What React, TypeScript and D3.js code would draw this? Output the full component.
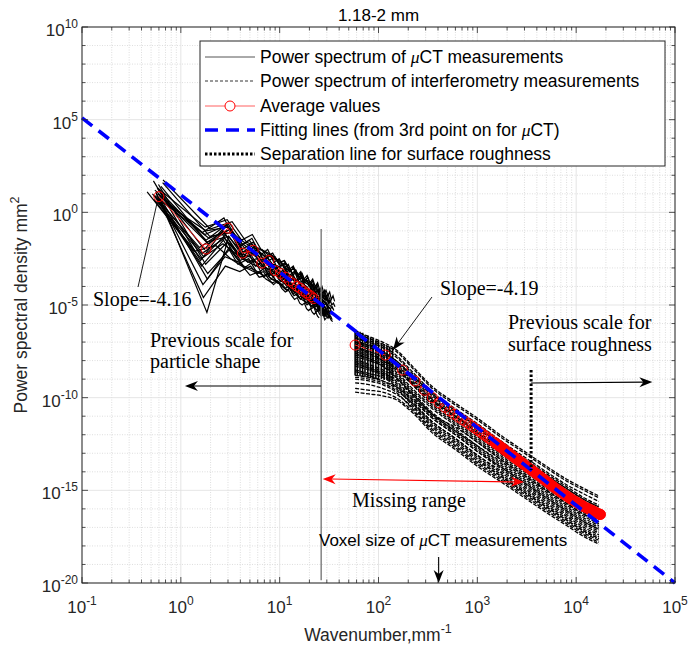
import React from 'react';
import * as d3 from 'd3';

// ---------------- DATA ----------------
const TITLE = '1.18-2 mm';
const X_TICK_EXP = [-1, 0, 1, 2, 3, 4, 5];
const Y_TICK_EXP = [10, 5, 0, -5, -10, -15, -20];

// µCT wavenumbers (mm^-1) and per-particle scale of the fundamental
const K_CT = [0.6, 1.8, 3.0, 4.2, 5.4, 6.6, 7.8, 9.0, 10.2, 11.4, 12.6, 13.8, 15.0, 16.2, 17.4, 18.6, 19.8, 21.0, 22.2, 23.4, 24.6, 25.8, 27.0, 28.2, 29.4, 30.6, 31.8, 33.0];
const CT_KSCALE = [1.0, 0.95, 1.1, 0.9, 1.02, 0.97, 0.76, 1.05, 0.93, 1.0, 0.88, 1.04, 0.98, 0.92, 0.86, 1.07, 0.99, 0.91, 1.03, 0.96, 0.89, 1.09, 0.94, 1.01];
// log10 PSD of µCT power spectra
const CT_CURVES = [
  [1.2, -1.5, -0.6, -2.0, -1.6, -2.4, -2.9, -2.8, -3.4, -3.1, -3.8, -3.5, -4.1, -3.9, -4.4, -4.2, -4.6, -4.3, -4.8, -4.6, -5.0, -4.8, -5.2, -5.0, -5.3, -5.1, -5.5, -5.3],
  [0.6, -2.4, -1.2, -2.6, -2.3, -3.0, -2.7, -3.5, -3.2, -3.8, -3.6, -4.2, -3.9, -4.4, -4.1, -4.6, -4.4, -4.8, -4.6, -5.0, -4.8, -5.2, -5.0, -5.4, -5.2, -5.5, -5.3, -5.6],
  [1.75, -0.9, -0.5, -1.6, -1.9, -2.2, -2.5, -2.6, -2.9, -3.2, -3.0, -3.6, -3.4, -3.8, -3.7, -4.1, -3.9, -4.3, -4.2, -4.4, -4.5, -4.7, -4.5, -4.9, -4.7, -5.0, -4.9, -5.1],
  [0.9, -2.9, -1.5, -2.8, -2.5, -3.3, -3.0, -3.6, -3.7, -3.9, -4.1, -4.0, -4.4, -4.3, -4.6, -4.7, -4.8, -5.0, -4.9, -5.2, -5.1, -5.4, -5.3, -5.5, -5.6, -5.5, -5.8, -5.7],
  [0.8, -5.4, -1.3, -2.4, -2.2, -2.9, -3.1, -3.3, -3.5, -3.4, -3.9, -3.8, -4.2, -4.1, -4.4, -4.5, -4.4, -4.8, -4.7, -4.9, -5.0, -4.9, -5.2, -5.1, -5.3, -5.4, -5.3, -5.5],
  [1.0, -1.2, -0.7, -1.8, -1.4, -2.3, -2.0, -2.7, -2.5, -3.0, -2.8, -3.3, -3.1, -3.5, -3.3, -3.7, -3.5, -3.9, -3.7, -4.1, -3.9, -4.3, -4.1, -4.4, -4.2, -4.6, -4.4, -4.7],
  [1.1, -2.1, -1.8, -2.5, -2.9, -3.1, -3.3, -3.2, -3.6, -3.9, -3.7, -4.1, -4.3, -4.2, -4.5, -4.7, -4.6, -4.9, -5.0, -4.9, -5.2, -5.3, -5.2, -5.4, -5.5, -5.4, -5.6, -5.7],
  [1.4, -1.7, -0.9, -2.3, -1.8, -2.6, -2.3, -3.0, -2.8, -3.3, -3.4, -3.6, -3.8, -3.7, -4.0, -4.2, -4.1, -4.4, -4.3, -4.6, -4.5, -4.7, -4.8, -4.9, -5.0, -5.0, -5.1, -5.2],
  [1.1, -3.9, -2.4, -2.7, -3.4, -3.2, -3.6, -3.8, -3.7, -4.0, -4.2, -4.1, -4.5, -4.4, -4.7, -4.6, -4.9, -4.8, -5.1, -5.0, -5.2, -5.3, -5.2, -5.5, -5.4, -5.6, -5.5, -5.7],
  [0.7, -1.0, -0.8, -1.7, -2.1, -2.0, -2.6, -2.4, -2.9, -2.7, -3.2, -3.0, -3.5, -3.3, -3.8, -3.6, -4.0, -3.8, -4.2, -4.0, -4.4, -4.2, -4.6, -4.4, -4.8, -4.6, -4.9, -4.8],
  [1.7, -2.6, -1.0, -2.1, -2.7, -2.5, -2.9, -3.4, -3.2, -3.6, -3.5, -3.9, -4.0, -3.9, -4.3, -4.2, -4.5, -4.4, -4.7, -4.8, -4.7, -5.0, -4.9, -5.1, -5.2, -5.1, -5.3, -5.4],
  [0.5, -3.3, -2.0, -3.0, -2.6, -3.5, -3.2, -3.8, -3.9, -4.2, -4.0, -4.4, -4.6, -4.5, -4.8, -4.9, -5.0, -5.1, -5.2, -5.3, -5.2, -5.5, -5.4, -5.6, -5.7, -5.6, -5.8, -5.9],
  [1.3, -0.8, -0.4, -1.5, -1.2, -2.0, -2.2, -2.4, -2.7, -2.6, -3.0, -3.3, -3.2, -3.5, -3.6, -3.8, -3.9, -4.0, -4.1, -4.3, -4.2, -4.5, -4.4, -4.6, -4.7, -4.6, -4.9, -4.8],
  [0.9, -2.2, -1.4, -2.2, -2.4, -2.8, -2.5, -3.1, -3.0, -3.5, -3.3, -3.7, -3.6, -4.0, -3.9, -4.3, -4.2, -4.5, -4.4, -4.7, -4.6, -4.9, -4.8, -5.1, -5.0, -5.3, -5.2, -5.4],
  [1.0, -1.9, -1.1, -2.4, -2.0, -2.9, -2.7, -3.2, -3.1, -3.6, -3.4, -3.9, -3.8, -4.2, -4.0, -4.4, -4.3, -4.6, -4.5, -4.8, -4.7, -5.0, -4.9, -5.2, -5.1, -5.3, -5.2, -5.4],
  [0.6, -1.4, -0.9, -2.0, -2.3, -2.5, -2.8, -2.9, -3.1, -3.4, -3.3, -3.7, -3.6, -3.9, -4.0, -4.2, -4.1, -4.4, -4.5, -4.6, -4.7, -4.8, -4.9, -5.0, -5.1, -5.2, -5.1, -5.3],
  [1.5, -2.8, -1.6, -2.5, -2.8, -3.0, -3.4, -3.3, -3.7, -3.6, -4.0, -4.1, -4.0, -4.4, -4.3, -4.7, -4.6, -4.8, -5.0, -4.9, -5.1, -5.2, -5.1, -5.4, -5.3, -5.5, -5.6, -5.5],
  [1.2, -1.1, -0.3, -1.9, -1.5, -2.1, -2.4, -2.3, -2.6, -2.9, -2.8, -3.1, -3.4, -3.2, -3.6, -3.5, -3.8, -3.7, -4.0, -3.9, -4.2, -4.1, -4.3, -4.5, -4.4, -4.6, -4.5, -4.7],
  [0.8, -3.6, -1.9, -2.9, -3.1, -3.4, -3.3, -3.7, -3.9, -3.8, -4.2, -4.3, -4.2, -4.6, -4.5, -4.8, -4.9, -4.8, -5.1, -5.0, -5.3, -5.2, -5.4, -5.5, -5.4, -5.7, -5.6, -5.8],
  [1.3, -2.0, -0.7, -2.1, -2.2, -2.6, -2.4, -2.9, -3.3, -3.2, -3.5, -3.4, -3.8, -3.7, -4.1, -4.0, -4.3, -4.2, -4.5, -4.4, -4.7, -4.6, -4.9, -4.8, -5.0, -4.9, -5.2, -5.1],
  [0.7, -2.5, -1.7, -2.3, -2.6, -2.7, -3.0, -3.1, -3.3, -3.5, -3.6, -3.8, -3.9, -4.1, -4.2, -4.4, -4.5, -4.6, -4.8, -4.7, -5.0, -5.1, -5.0, -5.3, -5.2, -5.4, -5.5, -5.6],
  [1.6, -1.3, -1.1, -1.7, -2.0, -2.4, -2.2, -2.8, -2.6, -3.1, -2.9, -3.4, -3.2, -3.6, -3.4, -3.8, -3.6, -4.0, -3.8, -4.2, -4.0, -4.4, -4.2, -4.5, -4.3, -4.7, -4.5, -4.8],
  [1.0, -4.6, -2.9, -3.2, -2.9, -3.5, -3.4, -3.6, -3.8, -3.7, -4.0, -4.1, -4.3, -4.2, -4.5, -4.6, -4.7, -4.6, -4.9, -4.8, -5.0, -5.1, -5.2, -5.1, -5.3, -5.4, -5.3, -5.5],
  [0.9, -1.6, -1.3, -2.2, -1.9, -2.7, -2.6, -3.0, -3.2, -3.0, -3.5, -3.7, -3.6, -3.9, -4.1, -4.0, -4.3, -4.4, -4.3, -4.6, -4.7, -4.6, -4.9, -5.0, -4.9, -5.1, -5.2, -5.3],
];
// log10 of µCT average values (at first 19 wavenumbers)
const CT_AVG = [0.85, -1.98, -0.85, -2.2, -2.05, -2.74, -2.6, -3.15, -3.3, -3.5, -3.7, -3.85, -4.0, -4.1, -4.25, -4.35, -4.45, -4.55, -4.65];

// interferometry
const K_IF = [58, 80, 110, 150, 220, 350, 600, 1000, 1800, 3000, 5000, 8000, 12000, 17000];
const IF_CURVES = [
  [-6.5, -6.8, -7.1, -7.5, -8.4, -9.5, -10.4, -11.2, -12.2, -13.0, -13.8, -14.5, -15.0, -15.4],
  [-6.8, -7.0, -7.3, -7.8, -8.7, -9.8, -10.7, -11.5, -12.5, -13.3, -14.1, -14.8, -15.4, -15.8],
  [-7.0, -7.3, -7.6, -8.1, -8.9, -10.0, -10.9, -11.8, -12.8, -13.6, -14.4, -15.1, -15.7, -16.1],
  [-7.3, -7.5, -7.8, -8.3, -9.2, -10.3, -11.2, -12.1, -13.1, -13.9, -14.7, -15.4, -16.0, -16.4],
  [-7.5, -7.8, -8.1, -8.6, -9.5, -10.5, -11.4, -12.3, -13.3, -14.1, -14.9, -15.6, -16.2, -16.6],
  [-7.8, -8.0, -8.3, -8.8, -9.7, -10.8, -11.7, -12.6, -13.6, -14.4, -15.2, -15.9, -16.5, -16.9],
  [-8.0, -8.3, -8.6, -9.1, -10.0, -11.0, -11.9, -12.8, -13.8, -14.6, -15.4, -16.1, -16.7, -17.1],
  [-8.3, -8.5, -8.8, -9.3, -10.2, -11.3, -12.2, -13.1, -14.1, -14.9, -15.7, -16.4, -17.0, -17.4],
  [-8.6, -8.8, -9.1, -9.5, -10.4, -11.5, -12.4, -13.3, -14.3, -15.1, -15.9, -16.6, -17.2, -17.6],
  [-8.9, -9.0, -9.2, -9.6, -10.3, -11.3, -12.2, -13.1, -14.0, -14.8, -15.6, -16.3, -16.9, -17.3],
  [-9.2, -9.3, -9.5, -9.8, -10.5, -11.6, -12.5, -13.4, -14.3, -15.1, -15.9, -16.6, -17.2, -17.6],
  [-9.5, -9.6, -9.7, -10.0, -10.7, -11.8, -12.7, -13.6, -14.5, -15.3, -16.1, -16.8, -17.4, -17.8],
  [-7.2, -7.6, -8.0, -8.5, -9.3, -10.2, -11.0, -11.9, -12.9, -13.8, -14.6, -15.3, -15.9, -16.3],
  [-6.9, -7.2, -7.6, -8.2, -9.1, -10.1, -11.0, -11.7, -12.6, -13.5, -14.3, -15.0, -15.6, -16.0],
  [-8.1, -8.4, -8.7, -9.0, -9.8, -10.9, -11.8, -12.6, -13.5, -14.3, -15.1, -15.8, -16.4, -16.8],
  [-7.6, -7.9, -8.3, -8.9, -9.9, -10.9, -11.6, -12.4, -13.4, -14.2, -15.0, -15.7, -16.3, -16.7],
  [-6.6, -6.9, -7.2, -7.7, -8.6, -9.7, -10.6, -11.4, -12.4, -13.2, -14.0, -14.7, -15.2, -15.6],
  [-6.7, -7.1, -7.5, -8.0, -8.8, -9.9, -10.8, -11.6, -12.6, -13.4, -14.2, -14.9, -15.5, -15.9],
  [-7.1, -7.4, -7.7, -8.2, -9.0, -10.1, -11.0, -11.9, -12.9, -13.7, -14.5, -15.2, -15.8, -16.2],
  [-7.4, -7.7, -8.0, -8.4, -9.3, -10.4, -11.3, -12.2, -13.2, -14.0, -14.8, -15.5, -16.1, -16.5],
  [-7.7, -7.9, -8.2, -8.7, -9.6, -10.6, -11.5, -12.4, -13.4, -14.2, -15.0, -15.7, -16.3, -16.7],
  [-7.9, -8.2, -8.5, -8.9, -9.8, -10.9, -11.8, -12.7, -13.7, -14.5, -15.3, -16.0, -16.6, -17.0],
  [-8.2, -8.4, -8.7, -9.2, -10.1, -11.1, -12.0, -12.9, -13.9, -14.7, -15.5, -16.2, -16.8, -17.2],
  [-8.5, -8.7, -8.9, -9.4, -10.3, -11.4, -12.3, -13.2, -14.2, -15.0, -15.8, -16.5, -17.1, -17.5],
  [-8.8, -8.9, -9.1, -9.4, -10.1, -11.1, -12.0, -12.9, -13.8, -14.6, -15.4, -16.1, -16.7, -17.1],
  [-9.0, -9.1, -9.3, -9.7, -10.6, -11.7, -12.6, -13.5, -14.4, -15.2, -16.0, -16.7, -17.3, -17.7],
  [-7.0, -7.2, -7.5, -8.0, -8.8, -9.8, -10.7, -11.6, -12.6, -13.4, -14.2, -14.9, -15.5, -15.9],
  [-7.3, -7.6, -7.9, -8.4, -9.2, -10.2, -11.1, -12.0, -13.0, -13.8, -14.6, -15.3, -15.9, -16.3],
  [-9.7, -9.8, -9.9, -10.1, -10.8, -11.9, -12.8, -13.7, -14.6, -15.4, -16.2, -16.9, -17.5, -17.9],
  [-6.4, -6.7, -7.0, -7.4, -8.3, -9.4, -10.3, -11.1, -12.1, -12.9, -13.7, -14.4, -14.9, -15.3],
];
// low-wavenumber spread of interferometry spectra (log10 PSD range)
const IF_STRIPE_K = [58, 61, 65, 69, 73, 78, 83, 88, 94, 100, 107, 114, 122, 130, 139];
const IF_STRIPE_TOP = [-6.35, -6.4, -6.45, -6.5, -6.6, -6.65, -6.75, -6.8, -6.9, -6.95, -7.05, -7.1, -7.2, -7.25, -7.3];
const IF_STRIPE_BOTTOM = [-8.8, -8.8, -8.85, -8.85, -8.9, -8.9, -8.95, -8.95, -9.0, -9.0, -9.0, -9.05, -9.05, -9.1, -9.1];
// interferometry averages
const IF_AVG_K = [58, 117, 175, 234, 292, 351, 409, 468, 526, 585, 643, 702, 760, 819, 877, 936, 994, 1053, 1111, 1170, 1228, 1287, 1345, 1404, 1521, 1638, 1755, 1872, 2340, 2925, 3510, 4680, 5850, 7020, 8775, 11700, 14625, 17550];
const IF_AVG = [-7.16, -7.7, -8.51, -9.1, -9.6, -10.0, -10.28, -10.52, -10.72, -10.9, -11.05, -11.18, -11.3, -11.42, -11.53, -11.63, -11.73, -11.83, -11.92, -12.01, -12.09, -12.17, -12.24, -12.31, -12.45, -12.57, -12.69, -12.8, -13.2, -13.58, -13.9, -14.4, -14.8, -15.1, -15.45, -15.85, -16.1, -16.3];
const IF_DENSE_FROM = 1500;

// fitting lines: log10(P) = b + s*log10(k)
const FIT_SLOPE = [-4.16, -4.19];
const FIT_INTERCEPT = [0.94, 0.95];
const FIT_RANGE = [[0.1, 60], [60, 1e5]];

const LEGEND = [
  'Power spectrum of |µ|CT measurements',
  'Power spectrum of interferometry measurements',
  'Average values',
  'Fitting lines (from 3rd point on for |µ|CT)',
  'Separation line for surface roughness',
];

// ---------------- LAYOUT ----------------
const W = 689, H = 649;
const L = 82, R = 675, T = 27, B = 583;
const SANS = "'Liberation Sans', Arial, Helvetica, sans-serif";
const SERIF = "'Liberation Serif', 'Times New Roman', serif";
const AX = '#262626';

const xs = d3.scaleLog().domain([1e-1, 1e5]).range([L, R]);
const ys = d3.scaleLog().domain([1e-20, 1e10]).range([B, T]);
const px = (k: number) => xs(k);
const py = (lg: number) => ys(Math.pow(10, lg));

function head(x1: number, y1: number, x2: number, y2: number, len = 13, wd = 5, notch = 4) {
  const a = Math.atan2(y2 - y1, x2 - x1);
  const ux = Math.cos(a), uy = Math.sin(a);
  const nx = -uy, ny = ux;
  const bx = x2 - ux * len, by = y2 - uy * len;
  const cx = x2 - ux * (len - notch), cy = y2 - uy * (len - notch);
  return `M${x2},${y2}L${bx + nx * wd},${by + ny * wd}L${cx},${cy}L${bx - nx * wd},${by - ny * wd}Z`;
}

function MuText({ s }: { s: string }) {
  const parts = s.split('|');
  return (
    <>
      {parts.map((p, i) =>
        p === 'µ' ? (
          <tspan key={i} fontFamily={SERIF} fontStyle="italic">μ</tspan>
        ) : (
          <tspan key={i}>{p}</tspan>
        )
      )}
    </>
  );
}

export default function App() {
  const xMajor = X_TICK_EXP.map((e) => Math.pow(10, e));
  const xMinor: number[] = [];
  for (let e = -1; e < 5; e++) for (let m = 2; m <= 9; m++) xMinor.push(m * Math.pow(10, e));
  const yDecades = d3.range(-20, 11);

  const ctLine = d3.line<[number, number]>().x((d) => d[0]).y((d) => d[1]);
  const ifLine = d3.line<[number, number]>().x((d) => d[0]).y((d) => d[1]).curve(d3.curveMonotoneX);

  const ctPaths = CT_CURVES.map((c, i) =>
    ctLine(c.map((v, j) => [px(K_CT[j] * CT_KSCALE[i]), py(v)] as [number, number]))
  );
  const ifPaths = IF_CURVES.map((c) => ifLine(c.map((v, j) => [px(K_IF[j]), py(v)] as [number, number])));

  const ctAvgPts = CT_AVG.map((v, j) => [px(K_CT[j]), py(v)] as [number, number]);
  const ifAvgPts = IF_AVG.map((v, j) => [px(IF_AVG_K[j]), py(v)] as [number, number]);
  const ifDensePts = IF_AVG.map((v, j) => [IF_AVG_K[j], v]).filter((d) => d[0] >= IF_DENSE_FROM).map((d) => [px(d[0]), py(d[1])] as [number, number]);

  const fitLines = FIT_SLOPE.map((s, i) => {
    const [a, b] = FIT_RANGE[i];
    return [
      [px(a), py(FIT_INTERCEPT[i] + s * Math.log10(a))],
      [px(b), py(FIT_INTERCEPT[i] + s * Math.log10(b))],
    ];
  });

  // annotations (data coordinates: wavenumber, log10 PSD)
  const ctLimitK = 26.3;
  const sepK = 3500;
  const vLine = { x: px(ctLimitK), y1: py(-0.9), y2: py(-19.85) };
  const partArrow = { x1: px(ctLimitK), y1: py(-9.37), x2: px(1.1), y2: py(-9.37) };
  const surfArrow = { x1: px(sepK), y1: py(-9.21), x2: px(59000), y2: py(-9.16) };
  const sepLine = { x: px(sepK), y1: py(-8.51), y2: py(-13.9) };
  const missArrow = { x1: px(ctLimitK) + 1.5, y1: py(-14.39), x2: px(2965), y2: py(-14.55) };
  const voxArrow = { x1: px(406), y1: py(-18.6), x2: px(406), y2: py(-20) };
  const slope2 = { x1: px(347.6), y1: py(-4.57), x2: px(140), y2: py(-7.43) };
  const slope1 = { x1: px(0.369), y1: py(-4.03), x2: px(0.574), y2: py(0.5) };

  const legX = 200, legY = 41, legW = 465, legH = 125;
  const rowY = [57, 81, 106, 130, 154];

  return (
    <svg width={W} height={H} style={{ position: 'absolute', left: 0, top: 0, background: '#fff' }} fontFamily={SANS}>
      <rect x={0} y={0} width={W} height={H} fill="#fff" />
      {/* grid */}
      <g>
        {xMinor.map((k, i) => (
          <line key={'xm' + i} x1={px(k)} x2={px(k)} y1={T} y2={B} stroke="#c8c8c8" strokeWidth={0.6} strokeDasharray="1 1.5" />
        ))}
        {yDecades.filter((e) => e % 5 !== 0).map((e) => (
          <line key={'ym' + e} x1={L} x2={R} y1={py(e)} y2={py(e)} stroke="#c8c8c8" strokeWidth={0.6} strokeDasharray="1 1.5" />
        ))}
        {xMajor.map((k, i) => (
          <line key={'xM' + i} x1={px(k)} x2={px(k)} y1={T} y2={B} stroke="#dedede" strokeWidth={0.8} />
        ))}
        {Y_TICK_EXP.map((e) => (
          <line key={'yM' + e} x1={L} x2={R} y1={py(e)} y2={py(e)} stroke="#dedede" strokeWidth={0.8} />
        ))}
      </g>

      {/* µCT spectra */}
      <g fill="none" stroke="#000" strokeWidth={1.2} strokeLinejoin="miter">
        {ctPaths.map((d, i) => (
          <path key={'ct' + i} d={d || ''} />
        ))}
      </g>

      {/* interferometry spectra */}
      <g fill="none" stroke="#000" strokeWidth={1.3} strokeDasharray="4 1.5">
        {ifPaths.map((d, i) => (
          <path key={'if' + i} d={d || ''} />
        ))}
      </g>
      <g stroke="#000" strokeWidth={1.6}>
        {IF_STRIPE_K.map((k, i) => (
          <line key={'st' + i} x1={px(k)} x2={px(k)} y1={py(IF_STRIPE_TOP[i])} y2={py(IF_STRIPE_BOTTOM[i])} />
        ))}
      </g>

      {/* vertical µCT limit line */}
      <line x1={vLine.x} x2={vLine.x} y1={vLine.y1} y2={vLine.y2} stroke="#7a7a7a" strokeWidth={1.4} />

      {/* averages */}
      <path d={ctLine(ctAvgPts) || ''} fill="none" stroke="#ff2020" strokeWidth={1} />
      <path d={ctLine(ifAvgPts) || ''} fill="none" stroke="#ff2020" strokeWidth={1} strokeDasharray="4 3" />
      <path d={ctLine(ifDensePts) || ''} fill="none" stroke="#ff0000" strokeWidth={11} strokeLinecap="round" strokeLinejoin="round" />
      <g fill="none" stroke="#ff0000" strokeWidth={1}>
        {ctAvgPts.map((p, i) => (
          <circle key={'ca' + i} cx={p[0]} cy={p[1]} r={5} />
        ))}
        {ifAvgPts.map((p, i) => (
          <circle key={'ia' + i} cx={p[0]} cy={p[1]} r={5} />
        ))}
      </g>

      {/* fitting lines */}
      <g stroke="#0000ff" strokeWidth={3.6} strokeDasharray="13 8" fill="none">
        {fitLines.map((l, i) => (
          <line key={'fit' + i} x1={l[0][0]} y1={l[0][1]} x2={l[1][0]} y2={l[1][1]} />
        ))}
      </g>

      {/* separation line */}
      <line x1={sepLine.x} x2={sepLine.x} y1={sepLine.y1} y2={sepLine.y2} stroke="#000" strokeWidth={3} strokeDasharray="2.5 2" />

      {/* arrows */}
      <g stroke="#000" strokeWidth={1.1} fill="#000">
        <line x1={partArrow.x1} y1={partArrow.y1} x2={partArrow.x2 + 8} y2={partArrow.y2} />
        <path d={head(partArrow.x1, partArrow.y1, partArrow.x2, partArrow.y2)} stroke="none" />
        <line x1={surfArrow.x1} y1={surfArrow.y1} x2={surfArrow.x2 - 8} y2={surfArrow.y2} />
        <path d={head(surfArrow.x1, surfArrow.y1, surfArrow.x2, surfArrow.y2)} stroke="none" />
        <line x1={voxArrow.x1} y1={voxArrow.y1} x2={voxArrow.x2} y2={voxArrow.y2 - 8} />
        <path d={head(voxArrow.x1, voxArrow.y1, voxArrow.x2, voxArrow.y2)} stroke="none" />
        <line x1={slope2.x1} y1={slope2.y1} x2={slope2.x2} y2={slope2.y2} strokeWidth={0.9} />
        <path d={head(slope2.x1, slope2.y1, slope2.x2, slope2.y2)} stroke="none" />
        <line x1={slope1.x1} y1={slope1.y1} x2={slope1.x2} y2={slope1.y2} strokeWidth={0.9} />
      </g>
      <g stroke="#ff0000" strokeWidth={1.1} fill="#ff0000">
        <line x1={missArrow.x1 + 8} y1={missArrow.y1} x2={missArrow.x2 - 8} y2={missArrow.y2} />
        <path d={head(missArrow.x2, missArrow.y2, missArrow.x1, missArrow.y1)} stroke="none" />
        <path d={head(missArrow.x1, missArrow.y1, missArrow.x2, missArrow.y2)} stroke="none" />
      </g>

      {/* annotation texts */}
      <g fontFamily={SERIF} fontSize={20} fill="#000">
        <text x={93} y={306}>Slope=-4.16</text>
        <text x={440} y={295}>Slope=-4.19</text>
        <text x={150} y={347}>Previous scale for</text>
        <text x={150} y={368}>particle shape</text>
        <text x={508} y={329}>Previous scale for</text>
        <text x={508} y={351}>surface roughness</text>
        <text x={409} y={507} textAnchor="middle">Missing range</text>
      </g>
      <text x={319} y={546} fontSize={17} fill="#000">
        <MuText s="Voxel size of |µ|CT measurements" />
      </text>

      {/* axes box & ticks */}
      <rect x={L} y={T} width={R - L} height={B - T} fill="none" stroke={AX} strokeWidth={1} />
      <g stroke={AX} strokeWidth={0.8}>
        {xMinor.map((k, i) => (
          <g key={'tm' + i}>
            <line x1={px(k)} x2={px(k)} y1={B} y2={B - 3.5} />
            <line x1={px(k)} x2={px(k)} y1={T} y2={T + 3.5} />
          </g>
        ))}
        {xMajor.map((k, i) => (
          <g key={'tM' + i}>
            <line x1={px(k)} x2={px(k)} y1={B} y2={B - 6} />
            <line x1={px(k)} x2={px(k)} y1={T} y2={T + 6} />
          </g>
        ))}
        {yDecades.map((e) => {
          const len = e % 5 === 0 ? 6 : 3.5;
          return (
            <g key={'ty' + e}>
              <line x1={L} x2={L + len} y1={py(e)} y2={py(e)} />
              <line x1={R} x2={R - len} y1={py(e)} y2={py(e)} />
            </g>
          );
        })}
      </g>

      {/* tick labels */}
      <g fontSize={17} fill="#262626">
        {X_TICK_EXP.map((e) => (
          <text key={'xl' + e} x={px(Math.pow(10, e))} y={613} textAnchor="middle">
            10<tspan dy={-8} fontSize={12}>{e}</tspan>
          </text>
        ))}
        {Y_TICK_EXP.map((e) => (
          <text key={'yl' + e} x={78} y={py(e) + 9} textAnchor="end">
            10<tspan dy={-8} fontSize={12}>{e}</tspan>
          </text>
        ))}
      </g>

      {/* title and axis labels */}
      <text x={(L + R) / 2} y={21} textAnchor="middle" fontSize={17} fill="#000">{TITLE}</text>
      <text x={378} y={641} textAnchor="middle" fontSize={17.5} fill="#262626">
        Wavenumber,mm<tspan dy={-8} fontSize={12.5}>-1</tspan>
      </text>
      <text transform={`translate(27,${(T + B) / 2}) rotate(-90)`} textAnchor="middle" fontSize={17.5} fill="#262626">
        Power spectral density mm<tspan dy={-8} fontSize={12.5}>2</tspan>
      </text>

      {/* legend */}
      <g>
        <rect x={legX} y={legY} width={legW} height={legH} fill="#fff" stroke={AX} strokeWidth={1} />
        <line x1={205} x2={255} y1={rowY[0]} y2={rowY[0]} stroke="#555" strokeWidth={1} />
        <line x1={205} x2={255} y1={rowY[1]} y2={rowY[1]} stroke="#000" strokeWidth={0.8} strokeDasharray="3 2" />
        <line x1={205} x2={255} y1={rowY[2]} y2={rowY[2]} stroke="#ff6060" strokeWidth={1} />
        <circle cx={230} cy={rowY[2]} r={5} fill="#fff" stroke="#ff0000" strokeWidth={1} />
        <line x1={205} x2={255} y1={rowY[3]} y2={rowY[3]} stroke="#0000ff" strokeWidth={3.6} strokeDasharray="13 8" />
        <line x1={205} x2={255} y1={rowY[4]} y2={rowY[4]} stroke="#000" strokeWidth={3} strokeDasharray="2.5 2" />
        {LEGEND.map((s, i) => (
          <text key={'lg' + i} x={260} y={rowY[i] + 6} fontSize={17.5} fill="#000">
            <MuText s={s} />
          </text>
        ))}
      </g>
    </svg>
  );
}
